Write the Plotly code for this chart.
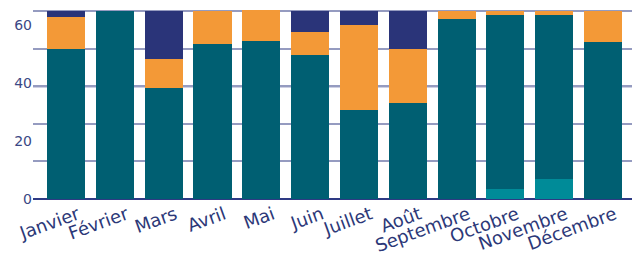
import plotly.graph_objects as go

months = ["Janvier", "Février", "Mars", "Avril", "Mai", "Juin", "Juillet",
          "Août", "Septembre", "Octobre", "Novembre", "Décembre"]

s_light = [0, 0, 0, 0, 0, 0, 0, 0, 0, 3.5, 6.9, 0]
s_teal = [51.9, 65.0, 38.4, 53.6, 54.6, 49.8, 30.9, 33.2, 62.2, 60.1, 56.7, 54.3]
s_orange = [11.0, 0, 10.0, 11.4, 10.7, 7.9, 29.3, 18.7, 2.8, 1.4, 1.4, 10.7]
s_navy = [2.1, 0, 16.6, 0, 0, 7.3, 4.8, 13.1, 0, 0, 0, 0]

y_tickvals = [0, 20, 40, 60]
y_ticktext = ["0", "20", "40", "60"]

series = [
    (s_light, "#008b98"),
    (s_teal, "#005f72"),
    (s_orange, "#f39937"),
    (s_navy, "#2a3479"),
]

bar_w = 0.78
label_shift = 0.24  # month labels sit slightly right of each bar's centre

fig = go.Figure()
for vals, col in series:
    fig.add_trace(go.Bar(x=months, y=vals, width=bar_w, offset=-bar_w / 2 - label_shift,
                         marker=dict(color=col, line=dict(width=0)), showlegend=False))

x_range = [-0.676 - label_shift, 11.594 - label_shift]
text_col = "#2c3878"
fig.update_layout(
    barmode="stack",
    width=632, height=256,
    margin=dict(l=33, r=0, t=10, b=57),
    paper_bgcolor="white", plot_bgcolor="white",
    font=dict(family="DejaVu Sans", color=text_col),
    xaxis=dict(range=x_range, tickangle=-20, showgrid=False, automargin=False,
               tickfont=dict(size=18, color=text_col), ticks="", showline=False,
               zeroline=False, ticklabelstandoff=1),
    yaxis=dict(range=[0, 65.35], tickvals=y_tickvals, ticktext=y_ticktext, automargin=False,
               showgrid=False, zeroline=True, zerolinecolor="#2e3a84", zerolinewidth=2,
               tickfont=dict(size=14, color="#3b4785"), ticks="", ticklabelstandoff=0,
               minor=dict(dtick=13, tick0=0, showgrid=True, gridcolor="#959bc0",
                          gridwidth=2)),
)
fig.add_shape(type="line", xref="paper", yref="y", x0=0, x1=1, y0=39, y1=39,
              line=dict(color="#3a4690", width=2), layer="below")
fig.write_html("out.html", config={"displayModeBar": False},
               post_script="document.body.style.margin='0';")
